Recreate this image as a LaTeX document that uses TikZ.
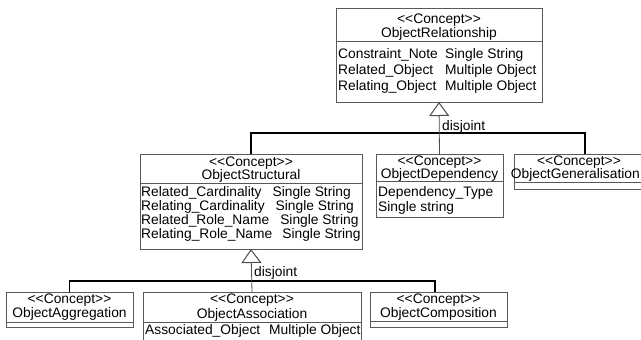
\documentclass[tikz,border=0pt]{standalone}
\usepackage{fontspec}
\setmainfont{Liberation Sans}
\usetikzlibrary{arrows.meta}

% stereotype text, kerned so that << and >> stay two separate characters
\newcommand{\stereo}{<\kern0pt<Concept>\kern0pt>}

\tikzset{
  cls/.style={draw=black!65, line width=0.9pt, fill=white, rectangle,
              inner sep=0pt, outer sep=0pt},
  lbl/.style={font=\fontsize{13.8}{16}\selectfont, inner sep=0pt, text=black},
  attr/.style={lbl, anchor=west},
  divider/.style={draw=black!65, line width=0.9pt},
  bus/.style={draw=black, line width=1.4pt},
  genlink/.style={draw=black!70, line width=0.8pt,
                  -{Triangle[open, length=14pt, width=20pt, line width=1pt]}},
}

\begin{document}
\begin{tikzpicture}[x=1pt, y=-1pt]
  \path[fill=white, use as bounding box] (0,0) rectangle (641,340);

  % class boxes
  \node[cls, minimum width=206pt, minimum height=94pt] (rel)    at (439,55)    {};
  \node[cls, minimum width=222pt, minimum height=95pt] (struct) at (251,201.5) {};
  \node[cls, minimum width=127pt, minimum height=63pt] (dep)    at (439.5,185.5) {};
  \node[cls, minimum width=142pt, minimum height=35pt] (gen)    at (585,171.5) {};
  \node[cls, minimum width=127pt, minimum height=35pt] (agg)    at (69.5,309.5) {};
  \node[cls, minimum width=218pt, minimum height=60pt] (assoc)  at (252,322)   {};
  \node[cls, minimum width=137pt, minimum height=35pt] (comp)   at (438.5,309.5) {};

  % compartment lines
  \draw[divider] ([yshift=-33pt]rel.north west)    -- ([yshift=-33pt]rel.north east);
  \draw[divider] ([yshift=-29pt]struct.north west) -- ([yshift=-29pt]struct.north east);
  \draw[divider] ([yshift=-27pt]dep.north west)    -- ([yshift=-27pt]dep.north east);
  \draw[divider] ([yshift=-28pt]gen.north west)    -- ([yshift=-28pt]gen.north east);
  \draw[divider] ([yshift=-30pt]agg.north west)    -- ([yshift=-30pt]agg.north east);
  \draw[divider] ([yshift=-30pt]assoc.north west)  -- ([yshift=-30pt]assoc.north east);
  \draw[divider] ([yshift=-29pt]comp.north west)   -- ([yshift=-29pt]comp.north east);

  % ObjectRelationship
  \node[lbl] (relS) at (439,20) {\stereo};
  \node[lbl] (relN) at (439,34) {ObjectRelationship};
  \node[attr] (relA1) at (338,55) {Constraint\_Note};
  \node[attr] (relT1) at (445,55) {Single String};
  \node[attr] (relA2) at (338,71) {Related\_Object};
  \node[attr] (relT2) at (445,71) {Multiple Object};
  \node[attr] (relA3) at (338,87) {Relating\_Object};
  \node[attr] (relT3) at (445,87) {Multiple Object};

  % ObjectStructural
  \node[lbl] (strS) at (251,163) {\stereo};
  \node[lbl] (strN) at (251,176) {ObjectStructural};
  \node[attr] (strA1) at (141,193) {Related\_Cardinality\hspace{11pt}Single String};
  \node[attr] (strA2) at (141,207) {Relating\_Cardinality\hspace{11pt}Single String};
  \node[attr] (strA3) at (141,221) {Related\_Role\_Name\hspace{11pt}Single String};
  \node[attr] (strA4) at (141,235) {Relating\_Role\_Name\hspace{10pt}Single String};

  % ObjectDependency
  \node[lbl] (depS) at (439.5,162) {\stereo};
  \node[lbl] (depN) at (439.5,175) {ObjectDependency};
  \node[attr] (depA1) at (378,193) {Dependency\_Type};
  \node[attr] (depA2) at (378,208) {Single string};

  % ObjectGeneralisation
  \node[lbl] (genS) at (579,162) {\stereo};
  \node[lbl, anchor=east] (genN) at (640,175) {ObjectGeneralisation};

  % ObjectAggregation
  \node[lbl] (aggS) at (69.5,300) {\stereo};
  \node[lbl] (aggN) at (69.5,314) {ObjectAggregation};

  % ObjectAssociation
  \node[lbl] (assS) at (252,300) {\stereo};
  \node[lbl] (assN) at (252,315) {ObjectAssociation};
  \node[attr] (assA1) at (145,331) {Associated\_Object};
  \node[attr] (assT1) at (269,331) {Multiple Object};

  % ObjectComposition
  \node[lbl] (comS) at (438.5,300) {\stereo};
  \node[lbl] (comN) at (438.5,314) {ObjectComposition};

  % generalisation set under ObjectRelationship
  \coordinate (bus1) at (439,133);
  \draw[bus] (struct.north) |- (bus1) -| (gen.north);
  \draw[genlink] (dep.north) -- (rel.south);
  \node[lbl, anchor=west] (dj1) at (442,127) {disjoint};

  % generalisation set under ObjectStructural
  \coordinate (bus2) at (251,281);
  \draw[bus] (agg.north) |- (bus2) -| ([xshift=-3.5pt]comp.north);
  \draw[genlink] (assoc.north) -- (struct.south);
  \node[lbl, anchor=west] (dj2) at (254,273) {disjoint};
\end{tikzpicture}
\end{document}
